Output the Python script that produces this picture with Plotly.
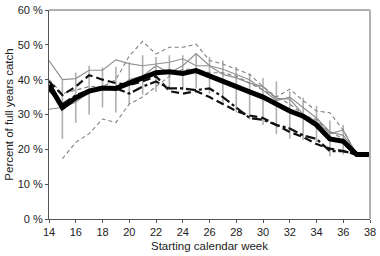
import plotly.graph_objects as go

weeks = list(range(14, 39))

mean_catch = [38.5, 32, 34.8, 36.7, 37.6, 37.5, 39, 40.5, 42, 42.3, 41.8, 42.6, 41,
              39.5, 38, 36.5, 35, 33, 31, 29.5, 27, 23, 22.3, 18.5, 18.5]
gray_solid_a = [45.5, 40, 40.3, 42.7, 42.7, 45.7, 44.6, 44, 44.5, 45, 46, 44, 44,
                43, 41.5, 40, 37, 34, 35, 32, 29, 25, 24, 19, 19]
gray_solid_b = [31.5, 32, 33.5, 36.5, 37.5, 37, 40, 41, 44, 42, 44, 47.5, 44,
                41.5, 40.5, 39, 38, 34.5, 34.5, 30, 28, 24.5, 25.5, 18.5, 18.5]
gray_dash_upper = [40, 36, 37, 38, 38, 40, 46.8, 51, 47.4, 49.3, 49.3, 50.2, 45.5,
                   44.5, 43, 41.5, 38, 35, 37.3, 34, 31, 30.5, 25.5, 18.5, 18.5]
gray_dash_lower = [None, 17.3, 22, 24.5, 28.7, 27.7, 33, 35, 38, 41, 43, 43, 42,
                   42, 41, 39, 37, 35, 33, 30, 28.5, 25, 23, 18.5, 18.5]
black_dash = [39.5, 35.6, 38, 41.3, 40, 39, 38.5, 39.5, 41, 36.7, 36, 36.7, 35,
              33, 31, 29.7, 29, 27, 25, 23.5, 21.5, 20.2, 19.5, 18.5, 18.5]
black_dashdot = [37, 33, 35.5, 37, 37.5, 37.5, 36, 38, 39.5, 37.5, 37.5, 37, 37.5,
                 35, 32, 29, 28.5, 27, 26, 24, 23, 19.5, 19.5, 18.5, 18.5]

bar_weeks = list(range(15, 37))
bar_top = [40, 42, 44, 43.5, 43.7, 45, 47, 46.5, 47, 47, 47.5, 46.5, 45.5, 43.7,
           41.8, 40.5, 39.5, 36.7, 34.8, 32.5, 28.3, 27]
bar_bottom = [23, 27.6, 30, 32, 30.6, 33, 35.7, 36.5, 37, 37, 37.5, 36, 33.4, 30.6,
              28.6, 27, 24.4, 23, 22.7, 22, 18, 18.5]

x_ticks = list(range(14, 39, 2))
y_ticks = [0, 10, 20, 30, 40, 50, 60]

bar_mid = [mean_catch[weeks.index(w)] for w in bar_weeks]
err_plus = [t - m for t, m in zip(bar_top, bar_mid)]
err_minus = [m - b for b, m in zip(bar_bottom, bar_mid)]

fig = go.Figure()

fig.add_trace(go.Scatter(
    x=bar_weeks, y=bar_mid, mode="markers",
    marker=dict(size=1, color="rgba(0,0,0,0)"),
    error_y=dict(type="data", symmetric=False, array=err_plus, arrayminus=err_minus,
                 color="#b0b0b0", thickness=1.6, width=0),
    hoverinfo="skip", showlegend=False))

def add_line(y, color, width, dash):
    fig.add_trace(go.Scatter(x=weeks, y=y, mode="lines",
                             line=dict(color=color, width=width, dash=dash),
                             showlegend=False, connectgaps=False))

add_line(gray_solid_a, "#909090", 1.2, "solid")
add_line(gray_solid_b, "#909090", 1.2, "solid")
add_line(gray_dash_upper, "#808080", 1.1, "4px,3px")
add_line(gray_dash_lower, "#808080", 1.1, "4px,3px")
add_line(black_dash, "#111111", 2.2, "8px,4px")
add_line(black_dashdot, "#111111", 2.2, "10px,3px,3px,3px")
add_line(mean_catch, "#000000", 5, "solid")

fig.update_layout(
    width=380, height=256,
    margin=dict(l=49, r=4, t=5, b=37),
    plot_bgcolor="white", paper_bgcolor="white",
    font=dict(family="Liberation Sans, Arial, sans-serif", size=11, color="#222222"),
    shapes=[
        dict(type="line", xref="paper", yref="paper", x0=0, x1=1, y0=1, y1=1,
             line=dict(color="#b0b0b0", width=2)),
        dict(type="line", xref="paper", yref="paper", x0=1, x1=1, y0=0, y1=1,
             line=dict(color="#b0b0b0", width=2)),
    ],
)
fig.update_xaxes(
    range=[14, 38], tickvals=x_ticks, ticktext=[str(v) for v in x_ticks],
    showgrid=False, zeroline=False, showline=True, linecolor="#555555", linewidth=1,
    ticks="outside", ticklen=3, tickcolor="#555555", ticklabeloverflow="allow",
    title=dict(text="Starting calendar week", font=dict(size=11.5), standoff=4),
)
fig.update_yaxes(
    range=[0, 60], tickvals=y_ticks, ticktext=[f"{v} %" for v in y_ticks],
    showgrid=False, zeroline=False, showline=True, linecolor="#555555", linewidth=1,
    ticks="outside", ticklen=3, tickcolor="#555555", ticklabeloverflow="allow",
    title=dict(text="Percent of full years catch", font=dict(size=11.5), standoff=1),
)

fig.write_html("out.html")
